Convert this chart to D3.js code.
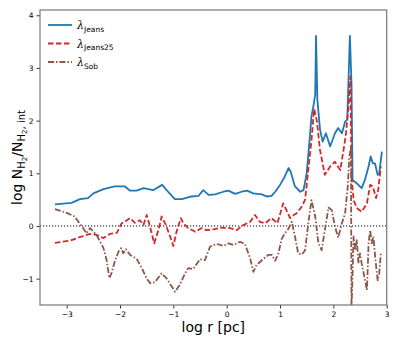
<!DOCTYPE html>
<html><head><meta charset="utf-8">
<script src="https://cdn.jsdelivr.net/npm/d3@7"></script>
<style>body{margin:0;background:#fff}svg{display:block;font-family:"DejaVu Sans",sans-serif}</style>
</head><body><svg id="c" width="399" height="339"></svg>
<script>
const xJeans=[-3.22,-2.91,-2.75,-2.6,-2.5,-2.31,-2.1,-1.91,-1.81,-1.69,-1.56,-1.38,-1.21,-1.1,-0.97,-0.84,-0.66,-0.53,-0.44,-0.34,-0.22,-0.06,0.03,0.16,0.28,0.38,0.5,0.66,0.75,0.84,0.91,1.0,1.09,1.16,1.2,1.28,1.38,1.44,1.5,1.56,1.59,1.63,1.66,1.675,1.70,1.75,1.8,1.86,1.94,2.03,2.09,2.16,2.22,2.26,2.31,2.34,2.36,2.44,2.53,2.59,2.66,2.7,2.74,2.78,2.83,2.86,2.91];
const yJeans=[0.41,0.44,0.51,0.53,0.62,0.70,0.75,0.75,0.67,0.67,0.72,0.68,0.78,0.65,0.51,0.51,0.56,0.57,0.68,0.59,0.60,0.65,0.67,0.61,0.65,0.67,0.62,0.60,0.56,0.57,0.65,0.78,0.94,1.10,1.03,0.75,0.65,0.68,1.0,1.70,2.08,2.3,2.5,3.61,2.4,1.83,1.60,1.76,1.51,1.76,1.86,1.76,1.98,2.02,3.61,2.71,0.87,0.81,0.72,0.87,1.13,1.32,1.19,1.19,0.97,1.0,1.41];
const xJeans25=[-3.22,-2.94,-2.72,-2.56,-2.44,-2.31,-2.19,-2.06,-1.97,-1.91,-1.81,-1.72,-1.63,-1.56,-1.5,-1.44,-1.36,-1.28,-1.22,-1.14,-1.06,-1.0,-0.94,-0.86,-0.81,-0.72,-0.59,-0.47,-0.38,-0.22,-0.09,0.06,0.19,0.28,0.44,0.53,0.62,0.72,0.84,0.95,1.06,1.19,1.26,1.31,1.41,1.47,1.53,1.59,1.64,1.69,1.75,1.84,1.94,2.03,2.13,2.19,2.23,2.28,2.32,2.34,2.38,2.44,2.53,2.63,2.69,2.74,2.8,2.84,2.89];
const yJeans25=[-0.32,-0.28,-0.20,-0.15,-0.17,-0.23,-0.15,-0.13,0.05,0.08,0.15,0.06,0.11,0.02,0.21,0.0,-0.33,-0.08,0.18,0.02,-0.2,-0.38,-0.11,0.15,0.05,-0.04,-0.11,-0.04,-0.08,-0.06,-0.03,-0.04,-0.08,0.0,0.08,0.21,0.08,0.05,0.15,0.05,0.43,0.15,0.21,0.24,0.37,0.50,1.06,1.63,2.22,2.0,1.44,0.97,1.13,1.22,1.06,1.44,1.70,2.21,2.84,0.94,0.49,0.34,0.27,0.43,0.78,0.75,0.53,0.68,1.13];
const xSob=[-3.22,-3.0,-2.85,-2.78,-2.69,-2.63,-2.56,-2.5,-2.44,-2.31,-2.25,-2.2,-2.16,-2.1,-2.03,-1.98,-1.94,-1.89,-1.81,-1.69,-1.59,-1.5,-1.43,-1.34,-1.22,-1.13,-1.03,-0.97,-0.88,-0.78,-0.72,-0.63,-0.5,-0.41,-0.31,-0.19,-0.06,0.03,0.13,0.25,0.34,0.44,0.5,0.56,0.66,0.78,0.85,0.91,0.97,1.03,1.09,1.16,1.22,1.28,1.34,1.41,1.47,1.53,1.59,1.66,1.72,1.78,1.84,1.91,1.97,2.03,2.09,2.16,2.22,2.27,2.3,2.33,2.34,2.38,2.41,2.44,2.47,2.5,2.53,2.58,2.63,2.66,2.69,2.72,2.75,2.79,2.83,2.86,2.89];
const ySob=[0.32,0.25,0.18,0.08,-0.04,-0.14,-0.04,-0.11,-0.17,-0.42,-0.65,-0.99,-0.90,-0.68,-0.49,-0.42,-0.52,-0.44,-0.55,-0.62,-0.80,-1.0,-1.09,-1.06,-0.90,-0.99,-1.15,-1.25,-1.12,-0.90,-0.80,-0.82,-0.63,-0.65,-0.39,-0.34,-0.38,-0.33,-0.36,-0.30,-0.34,-0.61,-0.87,-0.74,-0.65,-0.55,-0.55,-0.66,-0.52,-0.25,-0.14,-0.05,0.08,-0.2,-0.52,-0.54,-0.46,0.05,0.49,0.18,-0.33,-0.46,-0.08,0.35,0.30,-0.01,-0.22,0.05,0.24,0.75,1.32,1.5,-1.6,-0.2,-0.46,-0.27,-0.71,-0.52,-0.71,-0.96,-1.22,-0.33,-0.08,-0.33,-0.20,-0.65,-1.03,-0.90,-0.52];
const xTicks=[-3,-2,-1,0,1,2,3];
const yTicks=[-1,0,1,2,3,4];
const legendNames=["Jeans","Jeans25","Sob"];

const svg=d3.select("#c");
const L=40,R=386.7,T=10,B=305;
const x=d3.scaleLinear().domain([-3.5,3]).range([L,R]);
const y=d3.scaleLinear().domain([-1.5,4.1]).range([B,T]);
svg.append("defs").append("clipPath").attr("id","clip").append("rect").attr("x",L).attr("y",T).attr("width",R-L).attr("height",B-T);

const fmt=d=>d<0?"\u2212"+Math.abs(d):String(d);
const gx=svg.append("g").attr("transform",`translate(0,${B})`).call(d3.axisBottom(x).tickValues(xTicks).tickFormat(fmt).tickSize(3.5).tickPadding(3));
const gy=svg.append("g").attr("transform",`translate(${L},0)`).call(d3.axisLeft(y).tickValues(yTicks).tickFormat(fmt).tickSize(3.5).tickPadding(3));
[gx,gy].forEach(g=>{g.select(".domain").remove();g.selectAll("text").attr("font-size","7.5px").attr("font-family","DejaVu Sans").attr("fill","#000");g.selectAll("line").attr("stroke","#000").attr("stroke-width",0.8);});

const plot=svg.append("g").attr("clip-path","url(#clip)");
plot.append("line").attr("x1",L).attr("x2",R).attr("y1",y(0)).attr("y2",y(0)).attr("stroke","#000").attr("stroke-width",1).attr("stroke-dasharray","1.2,1.8");

const series=[
 {xs:xJeans,ys:yJeans,c:"#1f77b4",d:null},
 {xs:xJeans25,ys:yJeans25,c:"#d62728",d:"5.5,2.5"},
 {xs:xSob,ys:ySob,c:"#8c564b",d:"6,2,1.5,2"}
];
const line=d3.line().x(d=>x(d[0])).y(d=>y(d[1]));
series.forEach(s=>{
 plot.append("path").datum(s.xs.map((v,i)=>[v,s.ys[i]])).attr("d",line).attr("fill","none").attr("stroke",s.c).attr("stroke-width",1.8).attr("stroke-dasharray",s.d).attr("stroke-linejoin","round");
});

svg.append("rect").attr("x",L).attr("y",T).attr("width",R-L).attr("height",B-T).attr("fill","none").attr("stroke","#777").attr("stroke-width",1.2);

// legend
const lg=svg.append("g");
legendNames.forEach((n,i)=>{
 const yy=25+i*18.5;
 lg.append("line").attr("x1",48).attr("x2",72).attr("y1",yy).attr("y2",yy).attr("stroke",series[i].c).attr("stroke-width",1.8).attr("stroke-dasharray",series[i].d);
 const t=lg.append("text").attr("x",77).attr("y",yy+4).attr("font-size","11px");
 t.append("tspan").attr("font-family","DejaVu Serif").attr("font-style","italic").text("\u03bb");
 t.append("tspan").attr("font-size","7.5px").attr("dy",2.5).text(n);
});

// axis labels
svg.append("text").attr("x",(L+R)/2).attr("y",332).attr("text-anchor","middle").attr("font-size","14px").text("log r [pc]");
const yl=svg.append("text").attr("transform",`translate(22,${(T+B)/2}) rotate(-90)`).attr("text-anchor","middle").attr("font-size","14px");
yl.append("tspan").text("log N");
yl.append("tspan").attr("font-size","10px").attr("dy",3).text("H");
yl.append("tspan").attr("font-size","7px").attr("dy",2).text("2");
yl.append("tspan").attr("font-size","14px").attr("dy",-5).text("/N");
yl.append("tspan").attr("font-size","10px").attr("dy",3).text("H");
yl.append("tspan").attr("font-size","7px").attr("dy",2).text("2");
yl.append("tspan").attr("font-size","10px").attr("dy",-2).text(", int");
</script></body></html>
